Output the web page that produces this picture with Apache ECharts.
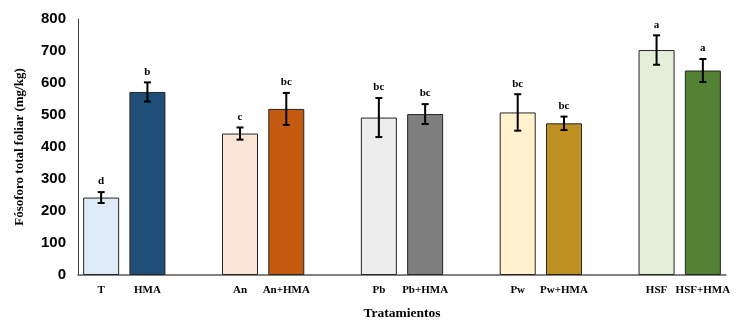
<!DOCTYPE html>
<html><head><meta charset="utf-8">
<script src="https://cdn.jsdelivr.net/npm/echarts@6/dist/echarts.min.js"></script>
<style>html,body{margin:0;padding:0;background:#fff}#c{width:741px;height:323px}</style>
</head><body><div id="c"></div>
<script>
const categories = ['T','HMA','','An','An+HMA','','Pb','Pb+HMA','','Pw','Pw+HMA','','HSF','HSF+HMA'];
const values  = [242, 572, null, 442, 519, null, 492, 503, null, 508, 474, null, 703, 639];
const errors  = [17, 30, null, 19, 50, null, 61, 31, null, 57, 21, null, 46, 36];
const letters = ['d','b','','c','bc','','bc','bc','','bc','bc','','a','a'];
const colors  = ['#DEEBF7','#1F4E79',null,'#FBE5D6','#C55A11',null,'#EDEDED','#7F7F7F',null,'#FFF2CC','#BF9022',null,'#E2F0D9','#548235'];
const yTicks = [0,100,200,300,400,500,600,700,800];

const chart = echarts.init(document.getElementById('c'));
const serif = '"Liberation Serif","Times New Roman",serif';
const errData = categories.map((c,i)=>[i, values[i], errors[i], letters[i]]).filter(d=>d[1]!=null);
chart.setOption({
  animation:false,
  grid:{left:78,right:15,top:19,bottom:48,containLabel:false,outerBoundsMode:'none'},
  xAxis:{type:'category',data:categories,
    axisLine:{lineStyle:{color:'#595959',width:1.5}},
    axisTick:{show:false},
    axisLabel:{color:'#000',fontFamily:serif,fontWeight:'bold',fontSize:11,margin:10,interval:0},
    name:'Tratamientos',nameLocation:'middle',nameGap:32,
    nameTextStyle:{color:'#000',fontFamily:serif,fontWeight:'bold',fontSize:13.5}
  },
  yAxis:{type:'value',min:yTicks[0],max:yTicks[yTicks.length-1],interval:100,
    splitLine:{show:false},
    axisLine:{show:true,lineStyle:{color:'#404040',width:1}},
    axisTick:{show:false},
    axisLabel:{color:'#000',fontFamily:'"Liberation Sans",Arial,sans-serif',fontWeight:'bold',fontSize:15,margin:12},
    name:'Fósoforo total foliar (mg/kg)',nameLocation:'middle',nameGap:52,
    nameTextStyle:{color:'#000',fontFamily:serif,fontWeight:'bold',fontSize:13}
  },
  series:[
    {type:'bar',barWidth:36,
     data:values.map((v,i)=>v==null?null:{value:v,itemStyle:{color:colors[i]}}),
     itemStyle:{borderColor:'#262626',borderWidth:1}},
    {type:'custom',data:errData,z:10,
     renderItem:function(params,api){
       const i=api.value(0), v=api.value(1), e=api.value(2);
       const top=api.coord([i,v+e]), bot=api.coord([i,v-e]);
       const x=top[0], hw=3.5;
       const st={stroke:'#000',lineWidth:2};
       return {type:'group',children:[
         {type:'line',shape:{x1:x,y1:top[1],x2:x,y2:bot[1]},style:st},
         {type:'line',shape:{x1:x-hw,y1:top[1],x2:x+hw,y2:top[1]},style:st},
         {type:'line',shape:{x1:x-hw,y1:bot[1],x2:x+hw,y2:bot[1]},style:st},
         {type:'text',x:x,y:top[1]-5,style:{text:letters[i],fill:'#000',align:'center',verticalAlign:'bottom',
           font:'bold 11px '+serif}}
       ]};
     }}
  ]
});
</script></body></html>
